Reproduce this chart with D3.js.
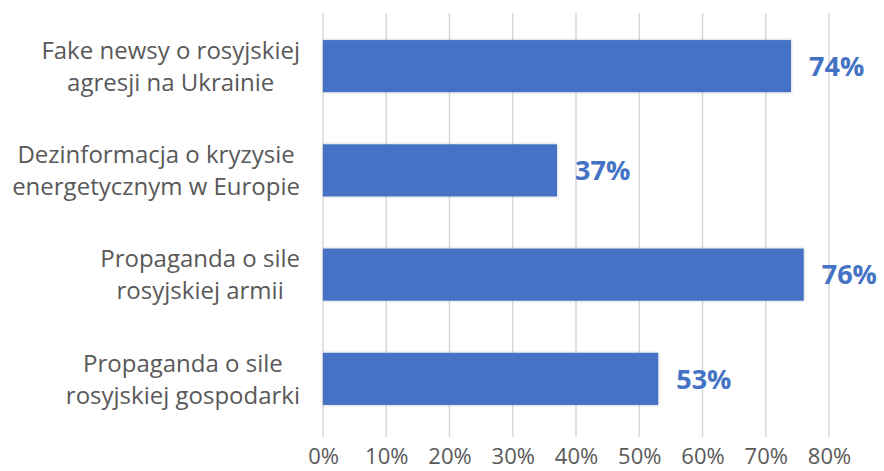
<!DOCTYPE html>
<html>
<head>
<meta charset="utf-8">
<script src="https://cdn.jsdelivr.net/npm/d3@7"></script>
<style>
  html, body { margin: 0; padding: 0; background: #ffffff; }
  svg { display: block; }
</style>
</head>
<body>
<svg id="chart" width="884" height="471"></svg>
<script>
// Category labels, each split into its two display lines
const categories = [
  ["Fake newsy o rosyjskiej", "agresji na Ukrainie"],
  ["Dezinformacja o kryzysie", "energetycznym w Europie"],
  ["Propaganda o sile", "rosyjskiej armii"],
  ["Propaganda o sile", "rosyjskiej gospodarki"]
];
const values = [74, 37, 76, 53];
const tickValues = [0, 10, 20, 30, 40, 50, 60, 70, 80];

const W = 884, H = 471;
const plot = { left: 323, right: 829, top: 13, bottom: 437 };
const barColor = "#4472C4";
const textColor = "#595959";
const font = "'Open Sans', 'Noto Sans', sans-serif";

const svg = d3.select("#chart");

const defs = svg.append("defs");
const shadow = defs.append("filter").attr("id", "barShadow")
  .attr("x", "-5%").attr("y", "-20%").attr("width", "110%").attr("height", "140%");
shadow.append("feDropShadow").attr("dx", 0).attr("dy", 0)
  .attr("stdDeviation", 1.5).attr("flood-color", "#000").attr("flood-opacity", 0.25);

const x = d3.scaleLinear().domain([0, 80]).range([plot.left, plot.right]);
const idx = d3.range(categories.length);
const y = d3.scaleBand().domain(idx).range([14, 431])
  .paddingInner(0.5).paddingOuter(0.25);

// Vertical gridlines
svg.append("g").selectAll("line").data(tickValues).join("line")
  .attr("x1", d => x(d)).attr("x2", d => x(d))
  .attr("y1", plot.top).attr("y2", plot.bottom)
  .attr("stroke", "#d9d9d9").attr("stroke-width", 1.5);

// Bars
svg.append("g").selectAll("rect").data(idx).join("rect")
  .attr("x", x(0))
  .attr("y", i => y(i))
  .attr("width", i => x(values[i]) - x(0))
  .attr("height", y.bandwidth())
  .attr("fill", barColor)
  .attr("filter", "url(#barShadow)");

// Value labels
svg.append("g").selectAll("text").data(idx).join("text")
  .attr("x", i => x(values[i]) + 18)
  .attr("y", i => y(i) + y.bandwidth() / 2)
  .attr("dy", "0.36em")
  .attr("fill", barColor)
  .attr("font-family", font)
  .attr("font-weight", 700)
  .attr("font-size", 27)
  .text(i => values[i] + "%");

// Category labels: two centred lines, block right-aligned against the axis
const catG = svg.append("g");
idx.forEach(i => {
  const cy = y(i) + y.bandwidth() / 2;
  const g = catG.append("g");
  const texts = categories[i].map((line, k) =>
    g.append("text")
      .attr("y", cy + (k - 0.5) * 32)
      .attr("dy", "0.36em")
      .attr("text-anchor", "middle")
      .attr("fill", textColor)
      .attr("font-family", font)
      .attr("font-size", 24)
      .text(line)
  );
  const maxW = d3.max(texts, t => t.node().getComputedTextLength());
  texts.forEach(t => t.attr("x", 300 - maxW / 2));
});

// X axis tick labels
const xAxis = d3.axisBottom(x).tickValues(tickValues)
  .tickFormat(d => d + "%").tickSize(0).tickPadding(0);
const axG = svg.append("g").attr("transform", `translate(0, 448)`).call(xAxis);
axG.select(".domain").remove();
axG.selectAll("text")
  .attr("fill", textColor)
  .attr("font-family", font)
  .attr("font-size", 22)
  .attr("dy", "0.71em");
</script>
</body>
</html>
